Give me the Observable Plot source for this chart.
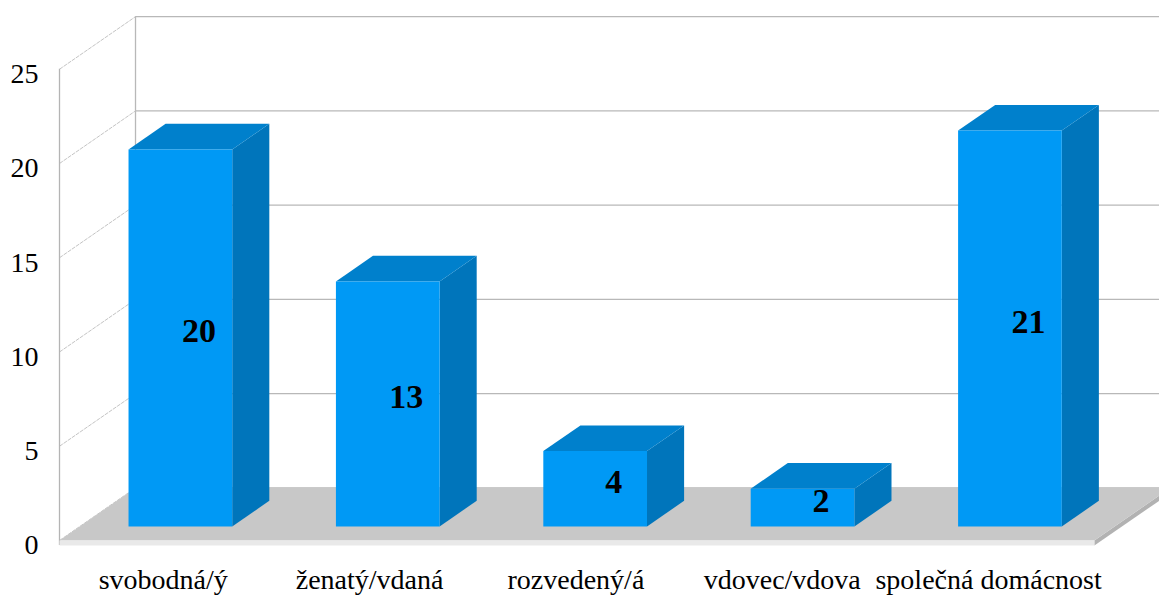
<!DOCTYPE html>
<html>
<head>
<meta charset="utf-8">
<script src="https://cdn.jsdelivr.net/npm/d3@7"></script>
<script src="https://cdn.jsdelivr.net/npm/@observablehq/plot@0.6"></script>
<style>
html,body{margin:0;padding:0;background:#fff;overflow:hidden}
svg{display:block}
</style>
</head>
<body>
<div id="chart"></div>
<script>
const categories = ["svobodná/ý","ženatý/vdaná","rozvedený/á","vdovec/vdova","společná domácnost"];
const values = [20,13,4,2,21];
const yTicks = [0,5,10,15,20,25];

// Projection of the 3D depth axis, in axis units (categories, values)
const wallDX = 0.3665, wallDY = 2.79;
const barInset = 0.235, barWidth = 0.5;
const depthFront = 0.267, depthBack = 0.755;
const floorT = 0.27;
const floorEnd = 4.99;
const labelStep = 0.995;
const xMax = 5.304;

const P = (x, v, d) => ({x: x + d * wallDX, y: v + d * wallDY});
const bars = categories.map((c, i) => ({c, i, v: values[i], l: i + barInset, r: i + barInset + barWidth}));

const poly = (fn) => bars.flatMap(b => fn(b).map(p => ({...p, z: b.i})));
const front = poly(b => [P(b.l,0,depthFront),P(b.r,0,depthFront),P(b.r,b.v,depthFront),P(b.l,b.v,depthFront)]);
const top_ = poly(b => [P(b.l,b.v,depthFront),P(b.r,b.v,depthFront),P(b.r,b.v,depthBack),P(b.l,b.v,depthBack)]);
const side = poly(b => [P(b.r,0,depthFront),P(b.r,0,depthBack),P(b.r,b.v,depthBack),P(b.r,b.v,depthFront)]);

const floorTop = [P(0,0,0),P(floorEnd,0,0),P(floorEnd,0,1),P(0,0,1)];
const floorFront = [P(0,0,0),P(floorEnd,0,0),P(floorEnd,-floorT,0),P(0,-floorT,0)];
const floorSide = [P(floorEnd,0,0),P(floorEnd,0,1),P(floorEnd,-floorT,1),P(floorEnd,-floorT,0)];

const face = (data, fill, z) => Plot.line(data, {x:"x", y:"y", z, fill, stroke:"none", curve:"linear-closed"});

const labels = bars.map(b => ({
  text: String(b.v),
  x: (b.l + b.r) / 2 + (depthFront + depthBack) / 2 * wallDX,
  y: b.v / 2 + (depthFront + depthBack) / 2 * wallDY
}));

const chart = Plot.plot({
  width: 1159,
  height: 595,
  marginLeft: 59,
  marginRight: 0,
  marginTop: 0,
  marginBottom: 46,
  style: {background: "#fff", fontFamily: "'Liberation Serif', serif", color: "#000", overflow: "hidden"},
  x: {domain: [0, xMax], axis: null},
  y: {domain: [-0.4775, 28.647], axis: null},
  marks: [
    // back wall
    Plot.ruleY(yTicks, {y: d => d + wallDY, x1: wallDX, x2: xMax, stroke: "#b8b8b8", strokeWidth: 1.3}),
    Plot.ruleX([wallDX], {y1: wallDY, y2: 25 + wallDY, stroke: "#b8b8b8", strokeWidth: 1.3}),
    // left wall
    Plot.link(yTicks, {x1: 0, x2: wallDX, y1: d => d, y2: d => d + wallDY, stroke: "#c4c4c4", strokeWidth: 1, strokeDasharray: "4 1"}),
    Plot.ruleX([0], {y1: -floorT, y2: 25, stroke: "#b4b4b4", strokeWidth: 1.3}),
    // floor
    face(floorSide, "#b2b2b2"),
    face(floorTop, "#c8c8c8"),
    face(floorFront, "#e9e9e9"),
    // bars
    face(side, "#0075bb", "z"),
    face(top_, "#0080cc", "z"),
    face(front, "#0099f5", "z"),
    // data labels
    Plot.text(labels, {x: "x", y: "y", text: "text", fontSize: 34, fontWeight: "bold", fill: "#000", dy: 6}),
    // axes
    Plot.axisY(yTicks, {anchor: "left", tickSize: 0, tickPadding: 21, fontSize: 28, dy: 5, fill: "#000", label: null}),
    Plot.text(categories, {x: (d, i) => i * labelStep + 0.5, frameAnchor: "bottom", text: d => d, fontSize: 28, dy: 39, fill: "#000"})
  ]
});
document.getElementById("chart").append(chart);
</script>
</body>
</html>
